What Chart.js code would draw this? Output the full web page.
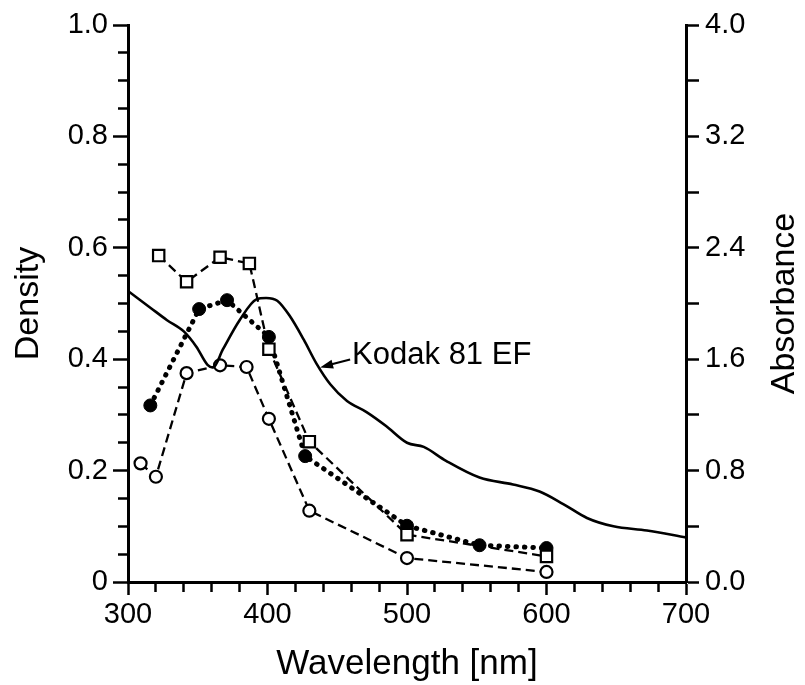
<!DOCTYPE html>
<html>
<head>
<meta charset="utf-8">
<script src="https://cdn.jsdelivr.net/npm/chart.js@4/dist/chart.umd.min.js"></script>
<style>
  body { margin: 0; background: #fff; }
  #wrap { width: 805px; height: 685px; }
</style>
</head>
<body>
<div id="wrap"><canvas id="spectra"></canvas></div>
<script>
// open squares, dashed
var squareNm = [322, 342, 366, 387, 401, 430, 500, 600];
var squareDensity = [0.586, 0.539, 0.583, 0.572, 0.418, 0.252, 0.085, 0.046];

// filled circles, dotted
var filledNm = [316, 351, 371, 401, 427, 500, 552, 600];
var filledDensity = [0.317, 0.490, 0.506, 0.440, 0.226, 0.101, 0.066, 0.061];

// open circles, dashed
var openNm = [309, 320, 342, 366, 385, 401, 430, 500, 600];
var openDensity = [0.213, 0.189, 0.375, 0.389, 0.386, 0.293, 0.128, 0.043, 0.018];

// Kodak 81 EF filter, absorbance on the right axis
var kodakNm = [300, 316, 328, 340, 349, 357, 361, 368, 380, 392, 399, 407, 416, 426, 435,
  445, 457, 471, 485, 500, 512, 528, 552, 576, 595, 612, 629, 648, 672, 700];
var kodakAbs = [2.09, 1.97, 1.88, 1.80, 1.69, 1.56, 1.54, 1.67, 1.88, 2.03, 2.04, 2.02, 1.91, 1.74, 1.57,
  1.42, 1.30, 1.22, 1.12, 1.00, 0.97, 0.87, 0.75, 0.70, 0.65, 0.56, 0.46, 0.40, 0.37, 0.32];

var kodakLabel = "Kodak 81 EF";
var kodakArrowNm = 437;

// axis ranges: [min, max, tick step, label step]
var nmAxis = [300, 700, 20, 100];
var densityAxis = [0, 1, 0.05, 0.2];
var absAxis = [0, 4, 0.4, 0.8];

var FONT = '"Liberation Sans", Arial, Helvetica, sans-serif';
var INK = "#000";

function pts(xs, ys) {
  return xs.map(function (x, i) { return {x: x, y: ys[i]}; });
}

function isMajor(v, step) {
  var r = v / step;
  return Math.abs(r - Math.round(r)) < 1e-6;
}

function interp(xs, ys, x) {
  for (var i = 1; i < xs.length; i++) {
    if (x <= xs[i]) {
      var t = (x - xs[i - 1]) / (xs[i] - xs[i - 1]);
      return ys[i - 1] + t * (ys[i] - ys[i - 1]);
    }
  }
  return ys[ys.length - 1];
}

Chart.defaults.font.family = FONT;
Chart.defaults.color = INK;

// right-hand title (reads upward) and the filter callout
var extras = {
  id: "extras",
  afterDraw: function (chart) {
    var ctx = chart.ctx, area = chart.chartArea, s = chart.scales;
    ctx.save();
    ctx.fillStyle = INK;
    ctx.font = "34px " + FONT;
    ctx.textAlign = "center";
    ctx.textBaseline = "middle";
    ctx.translate(s.y2.right - 20, (area.top + area.bottom) / 2);
    ctx.rotate(-Math.PI / 2);
    ctx.fillText("Absorbance", 0, 0);
    ctx.restore();

    var tx = s.x.getPixelForValue(kodakArrowNm);
    var ty = s.y2.getPixelForValue(interp(kodakNm, kodakAbs, kodakArrowNm));
    var ex = tx + 31, ey = ty - 8;
    var dx = tx - ex, dy = ty - ey, len = Math.hypot(dx, dy);
    dx /= len; dy /= len;
    ctx.save();
    ctx.strokeStyle = INK;
    ctx.fillStyle = INK;
    ctx.lineWidth = 2.2;
    ctx.beginPath();
    ctx.moveTo(ex, ey);
    ctx.lineTo(tx - dx * 8, ty - dy * 8);
    ctx.stroke();
    ctx.beginPath();
    ctx.moveTo(tx + 1, ty);
    ctx.lineTo(tx - dx * 14 - dy * 4.5, ty - dy * 14 + dx * 4.5);
    ctx.lineTo(tx - dx * 14 + dy * 4.5, ty - dy * 14 - dx * 4.5);
    ctx.closePath();
    ctx.fill();
    ctx.font = "31px " + FONT;
    ctx.textAlign = "left";
    ctx.textBaseline = "middle";
    ctx.fillText(kodakLabel, tx + 33, ty - 12);
    ctx.restore();
  }
};

function axisGrid(len, minorDash) {
  return {
    display: true,
    drawOnChartArea: false,
    drawTicks: true,
    tickLength: len,
    tickWidth: 2.5,
    tickColor: INK,
    tickBorderDash: function (c) {
      return c.tick && c.tick.major ? [] : minorDash;
    }
  };
}

function markMajor(step) {
  return function (scale) {
    scale.ticks.forEach(function (t) { t.major = isMajor(t.value, step); });
  };
}

new Chart("spectra", {
  type: "line",
  data: {
    datasets: [
      {
        data: pts(kodakNm, kodakAbs),
        yAxisID: "y2",
        borderColor: INK,
        borderWidth: 2.6,
        pointRadius: 0,
        cubicInterpolationMode: "monotone"
      },
      {
        data: pts(openNm, openDensity),
        yAxisID: "y",
        borderColor: INK,
        borderWidth: 2.3,
        borderDash: [9, 5],
        pointStyle: "circle",
        pointRadius: 6,
        pointBorderWidth: 2.2,
        pointBackgroundColor: "#fff",
        pointBorderColor: INK
      },
      {
        data: pts(squareNm, squareDensity),
        yAxisID: "y",
        borderColor: INK,
        borderWidth: 2.3,
        borderDash: [9, 5],
        pointStyle: "rect",
        pointRadius: 8,
        pointBorderWidth: 2.2,
        pointBackgroundColor: "#fff",
        pointBorderColor: INK
      },
      {
        data: pts(filledNm, filledDensity),
        yAxisID: "y",
        borderColor: INK,
        borderWidth: 5,
        borderDash: [0.5, 8],
        borderCapStyle: "round",
        pointStyle: "circle",
        pointRadius: 6.5,
        pointBorderWidth: 1,
        pointBackgroundColor: INK,
        pointBorderColor: INK
      }
    ]
  },
  options: {
    responsive: true,
    maintainAspectRatio: false,
    animation: false,
    layout: { padding: { top: 25 } },
    plugins: { legend: { display: false }, tooltip: { enabled: false } },
    scales: {
      x: {
        type: "linear",
        position: "bottom",
        min: nmAxis[0], max: nmAxis[1],
        border: { display: true, width: 3, color: INK },
        grid: axisGrid(13, [8, 60]),
        afterBuildTicks: markMajor(nmAxis[3]),
        afterFit: function (s) { s.height = 103; },
        ticks: {
          stepSize: nmAxis[2],
          autoSkip: false,
          maxRotation: 0,
          padding: 3,
          font: { size: 29 },
          callback: function (v) { return isMajor(v, nmAxis[3]) ? String(Math.round(v)) : ""; }
        },
        title: {
          display: true,
          text: "Wavelength [nm]",
          font: { size: 35 },
          padding: { top: 0, bottom: 0 }
        }
      },
      y: {
        position: "left",
        min: densityAxis[0], max: densityAxis[1],
        border: { display: true, width: 3, color: INK },
        grid: axisGrid(15, [0, 5, 30, 60]),
        afterBuildTicks: markMajor(densityAxis[3]),
        afterFit: function (s) { s.width = 128; },
        ticks: {
          stepSize: densityAxis[2],
          autoSkip: false,
          padding: 5,
          font: { size: 29 },
          callback: function (v) {
            if (!isMajor(v, densityAxis[3])) return "";
            return Math.abs(v) < 1e-9 ? "0" : v.toFixed(1);
          }
        },
        title: {
          display: true,
          text: "Density",
          font: { size: 34 },
          padding: { top: 8, bottom: 0 }
        }
      },
      y2: {
        position: "right",
        min: absAxis[0], max: absAxis[1],
        border: { display: true, width: 3, color: INK },
        grid: axisGrid(13, [13, 60]),
        afterFit: function (s) { s.width = 119; },
        ticks: {
          stepSize: absAxis[2],
          autoSkip: false,
          padding: 6,
          font: { size: 29 },
          callback: function (v) { return isMajor(v, absAxis[3]) ? v.toFixed(1) : ""; }
        }
      }
    }
  },
  plugins: [extras]
});
</script>
</body>
</html>
